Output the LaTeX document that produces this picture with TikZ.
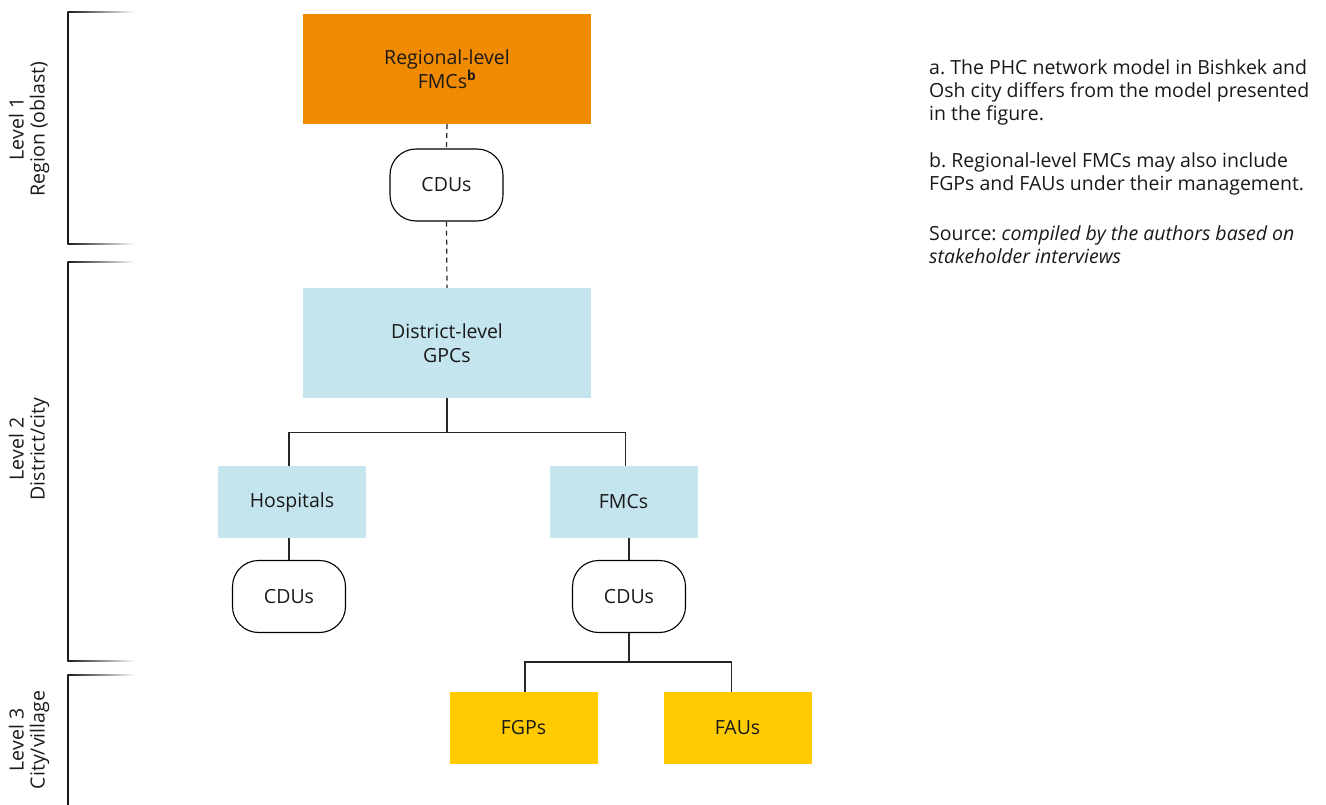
\documentclass[tikz,border=0pt]{standalone}
\usepackage{fontspec}
\setmainfont{Open Sans}
\usetikzlibrary{calc}
\definecolor{orangeR}{HTML}{F08A00}
\definecolor{blueD}{HTML}{C4E4EE}
\definecolor{yellowV}{HTML}{FFCB00}
\frenchspacing
\begin{document}
\begin{tikzpicture}[x=1pt,y=-1pt,
  every node/.style={font=\fontsize{19.5}{24}\selectfont, text=black!90},
  box/.style={inner sep=0pt, align=center},
  orangebox/.style={box, fill=orangeR, minimum width=288pt, minimum height=110pt},
  bluebig/.style={box, fill=blueD, minimum width=288pt, minimum height=110pt},
  bluesmall/.style={box, fill=blueD, minimum width=148pt, minimum height=72pt},
  yellowbox/.style={box, fill=yellowV, minimum width=148pt, minimum height=72pt},
  cdu/.style={box, draw=black, line width=1.1pt, rounded corners=26pt, minimum width=113pt, minimum height=72pt},
  conn/.style={draw=black!85, line width=1.2pt},
  dashconn/.style={conn, dash pattern=on 5pt off 4pt},
  bracketline/.style={draw=black!90, line width=1.2pt},
  levellabel/.style={rotate=90, align=center, font=\fontsize{19.5}{21}\selectfont},
  note/.style={anchor=north west, align=left, inner sep=0pt, font=\fontsize{19.5}{23.3}\selectfont}
]
\useasboundingbox (0,0) rectangle (1326,805);

% brackets
\draw[bracketline] (68,12) -- (68,244);
\shade[left color=black!90, right color=white] (67.4,11.4) rectangle (135,12.8);
\shade[left color=black!90, right color=white] (67.4,243.4) rectangle (135,244.8);
\draw[bracketline] (68,262) -- (68,661);
\shade[left color=black!90, right color=white] (67.4,261.4) rectangle (135,262.8);
\shade[left color=black!90, right color=white] (67.4,660.4) rectangle (135,661.8);
\draw[bracketline] (68,675) -- (68,805);
\shade[left color=black!90, right color=white] (67.4,674.4) rectangle (135,675.8);

\node[levellabel] (l1) at (29,129) {Level 1\\Region (oblast)};
\node[levellabel] (l2) at (29,449) {Level 2\\District/city};
\node[levellabel] (l3) at (29,740) {Level 3\\City/village};

% boxes
\node[orangebox] (reg) at (447,69) {Regional-level\\FMCs\textsuperscript{\textbf{b}}};
\node[cdu] (cdu1) at (446.5,185) {CDUs};
\node[bluebig] (gpc) at (447,343) {District-level\\GPCs};
\node[bluesmall] (hosp) at (292,502) {Hospitals};
\node[bluesmall] (fmc) at (623.5,502) {FMCs};
\node[cdu] (cdul) at (289,596.5) {CDUs};
\node[cdu] (cdur) at (629,596.5) {CDUs};
\node[yellowbox] (fgp) at (523.5,728) {FGPs};
\node[yellowbox] (fau) at (737.5,728) {FAUs};

% connectors
\draw[dashconn] (reg.south) -- (cdu1.north);
\draw[dashconn] (cdu1.south) -- (gpc.north);
\draw[conn] (gpc.south) -- ++(0,34) -| ([xshift=-3pt]hosp.north);
\draw[conn] (gpc.south) -- ++(0,34) -| ([xshift=2pt]fmc.north);
\draw[conn] (cdul.north) -- (cdul.north |- hosp.south);
\draw[conn] (cdur.north) -- (cdur.north |- fmc.south);
\draw[conn] (cdur.south) -- ++(0,29) -| ([xshift=1.5pt]fgp.north);
\draw[conn] (cdur.south) -- ++(0,29) -| ([xshift=-6pt]fau.north);

% notes
\node[note] (na) at (929,59) {a. The PHC network model in Bishkek and\\Osh city differs from the model presented\\in the figure.};
\node[note] (nb) at (929,152) {b. Regional-level FMCs may also include\\FGPs and FAUs under their management.};
\node[note] (ns) at (929,225) {Source: \textit{compiled by the authors based on}\\\textit{stakeholder interviews}};
\end{tikzpicture}
\end{document}
